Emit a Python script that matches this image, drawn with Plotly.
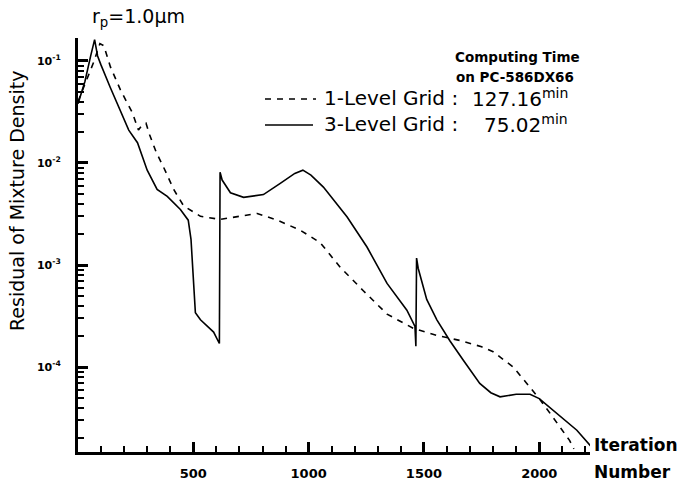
import plotly.graph_objects as go

# Residual history, 3-level multigrid (solid) vs single grid (dashed)
iter_3level = [0, 30, 55, 72, 85, 100, 140, 184, 220, 258, 300, 343, 387, 444, 478, 490,
               509, 531, 560, 588, 613, 616, 625, 661, 718, 804, 877, 940, 975, 1010,
               1064, 1167, 1253, 1340, 1426, 1461, 1465, 1468, 1475, 1512, 1556, 1613,
               1670, 1742, 1790, 1830, 1900, 1960, 2000, 2058, 2102, 2163, 2225]
resid_3level = [3.8e-2, 6.3e-2, 1.12e-1, 1.62e-1, 1.12e-1, 9.1e-2, 5.5e-2, 3.3e-2, 2.1e-2,
                1.58e-2, 8.5e-3, 5.5e-3, 4.7e-3, 3.5e-3, 2.75e-3, 1.78e-3,
                3.4e-4, 2.9e-4, 2.5e-4, 2.2e-4, 1.7e-4, 8.1e-3, 6.8e-3, 5.1e-3, 4.6e-3,
                4.9e-3, 6.3e-3, 7.9e-3, 8.5e-3, 7.6e-3,
                5.8e-3, 2.95e-3, 1.5e-3, 6.6e-4, 3.6e-4, 2.5e-4, 1.6e-4, 1.17e-3, 9.3e-4,
                4.6e-4, 2.9e-4, 1.8e-4,
                1.17e-4, 6.9e-5, 5.6e-5, 5.1e-5, 5.4e-5, 5.4e-5, 4.9e-5, 3.8e-5, 3.2e-5,
                2.4e-5, 1.66e-5]

iter_1level = [0, 40, 70, 95, 112, 141, 184, 236, 262, 275, 295, 310, 340, 371, 415, 458,
               531, 617, 703, 777, 864, 964, 1050, 1137, 1237, 1340, 1453, 1556, 1656,
               1750, 1800, 1887, 1946, 2003, 2060, 2132, 2150]
resid_1level = [4.0e-2, 6.6e-2, 1.0e-1, 1.48e-1, 1.41e-1, 8.7e-2, 5.2e-2, 3.1e-2, 2.1e-2,
                2.3e-2, 2.45e-2, 1.9e-2, 1.26e-2, 9.1e-3, 5.5e-3, 3.8e-3,
                3.0e-3, 2.8e-3, 3.0e-3, 3.2e-3, 2.75e-3, 2.19e-3, 1.66e-3, 9.5e-4, 5.6e-4,
                3.3e-4, 2.4e-4, 2.04e-4, 1.82e-4,
                1.58e-4, 1.41e-4, 1.0e-4, 6.9e-5, 4.8e-5, 3.2e-5, 1.9e-5, 1.58e-5]

x_ticks = [500, 1000, 1500, 2000]
y_ticks = [1e-4, 1e-3, 1e-2, 1e-1]
y_ticktext = ["10<sup>-4</sup>", "10<sup>-3</sup>", "10<sup>-2</sup>", "10<sup>-1</sup>"]

legend_rows = [("1-Level Grid :", "127.16"), ("3-Level Grid :", "75.02")]

FONT = "DejaVu Sans, Arial, sans-serif"
X_RANGE = [0, 2220]
Y_RANGE = [-4.833, -0.775]

fig = go.Figure()
fig.add_trace(go.Scatter(x=iter_1level, y=resid_1level, mode="lines",
                         line=dict(color="black", width=1.6, dash="6px,6px"),
                         showlegend=False))
fig.add_trace(go.Scatter(x=iter_3level, y=resid_3level, mode="lines",
                         line=dict(color="black", width=1.6),
                         showlegend=False))

fig.update_layout(
    xaxis=dict(range=X_RANGE, showline=True, linecolor="black", linewidth=3,
               ticks="inside", ticklen=10, tickwidth=2.5, tickcolor="black",
               tickvals=x_ticks, ticktext=[f"<b>{v}</b>" for v in x_ticks],
               tickfont=dict(family=FONT, size=13, color="black"),
               showgrid=False, zeroline=False, automargin=False, ticklabelstandoff=7,
               minor=dict(ticks="inside", ticklen=6, tickwidth=2, tickcolor="black",
                          dtick=100, tick0=0, showgrid=False)),
    yaxis=dict(type="log", range=Y_RANGE, showline=True, linecolor="black", linewidth=3,
               ticks="inside", ticklen=10, tickwidth=2.5, tickcolor="black",
               tickvals=y_ticks, ticktext=[f"<b>{t}</b>" for t in y_ticktext],
               tickfont=dict(family=FONT, size=11, color="black"),
               showgrid=False, zeroline=False, automargin=False, ticklabelstandoff=12,
               minor=dict(ticks="inside", ticklen=6, tickwidth=2, tickcolor="black",
                          dtick="D1", showgrid=False)),
)

L, R, T, B, W, H = 78, 91, 38, 33, 681, 485
pw, ph = W - L - R, H - T - B


def px(x):
    return (x - L) / pw


def py(y):
    return (H - B - y) / ph


annotations = [
    dict(text="r<sub>p</sub>=1.0μm", x=px(138), y=py(17), font=dict(size=19)),
    dict(text="Residual of Mixture Density", x=px(17), y=py(201), textangle=-90,
         font=dict(size=19)),
    dict(text="<b>Iteration</b>", x=px(592), y=py(445), xanchor="left", font=dict(size=17)),
    dict(text="<b>Number</b>", x=px(592), y=py(472), xanchor="left", font=dict(size=17)),
    dict(text="<b>Computing Time</b>", x=px(517), y=py(57), font=dict(size=13.5)),
    dict(text="<b>on PC-586DX66</b>", x=px(515), y=py(77), font=dict(size=13.5)),
]
row_y = [98, 124]
for (label, val), yy in zip(legend_rows, row_y):
    annotations.append(dict(text=label, x=px(322), y=py(yy), xanchor="left",
                            font=dict(size=20)))
    annotations.append(dict(text=f"{val}<sup>min</sup>", x=px(570), y=py(yy),
                            xanchor="right", font=dict(size=20)))
for a in annotations:
    a.setdefault("xanchor", "center")
    a.update(xref="paper", yref="paper", yanchor="middle", showarrow=False)
    a["font"] = dict(family=FONT, color="black", **a["font"])

shapes = [
    dict(type="line", xref="paper", yref="paper", x0=px(265), x1=px(316), y0=py(99),
         y1=py(99), line=dict(color="black", width=1.6, dash="6px,6px")),
    dict(type="line", xref="paper", yref="paper", x0=px(265), x1=px(313), y0=py(125),
         y1=py(125), line=dict(color="black", width=1.6)),
]

fig.update_layout(width=W, height=H, margin=dict(l=L, r=R, t=T, b=B),
                  paper_bgcolor="white", plot_bgcolor="white",
                  annotations=annotations, shapes=shapes,
                  font=dict(family=FONT, color="black"))

fig.write_html("out.html")
